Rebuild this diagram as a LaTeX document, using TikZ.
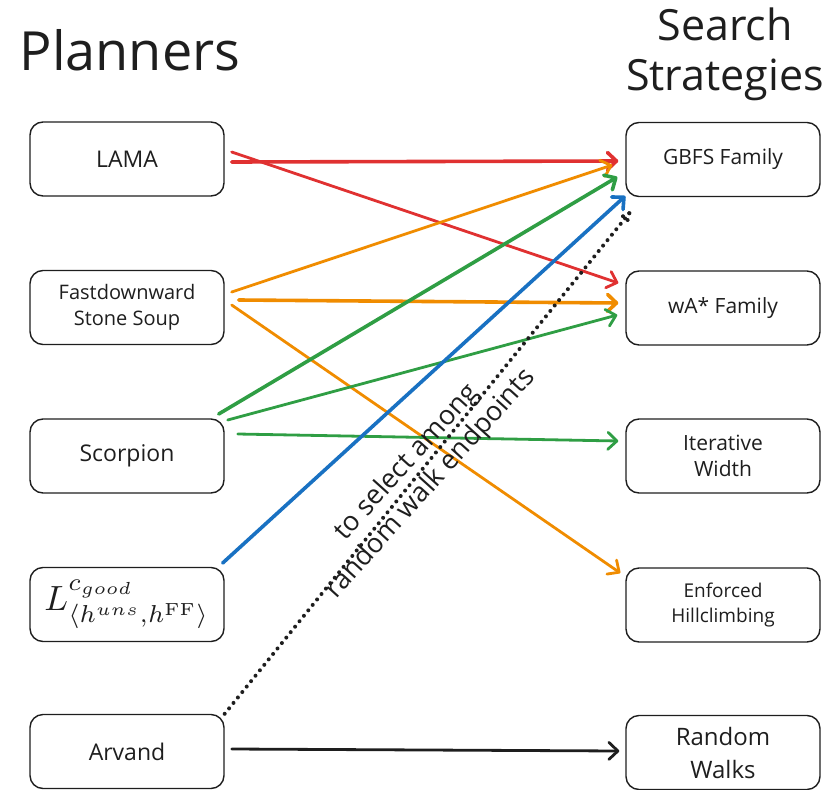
\documentclass[tikz,border=0pt]{standalone}
\usepackage[no-math]{fontspec}
\setmainfont{Open Sans}
\usepackage{graphicx}
\usetikzlibrary{arrows.meta,calc,decorations.markings}
\definecolor{ink}{HTML}{1E1E1E}
\definecolor{exred}{HTML}{E03131}
\definecolor{exorange}{HTML}{F08C00}
\definecolor{exgreen}{HTML}{2F9E44}
\definecolor{exblue}{HTML}{1971C2}
\begin{document}
\begin{tikzpicture}[x=1pt,y=-1pt,
  box/.style={draw=ink, line width=1.4pt, rounded corners=13pt,
    minimum width=194pt, minimum height=74pt, inner sep=0pt,
    align=center, text=ink, font=\fontsize{23}{28}\selectfont},
  mid/.style={font=\fontsize{21}{26}\selectfont},
  small/.style={font=\fontsize{19}{25}\selectfont},
  large/.style={font=\fontsize{24}{33}\selectfont},
  link/.style={line width=2.8pt, line cap=round,
    -{Straight Barb[length=9pt,width=17pt,line cap=round,line join=round]}},
  heavy/.style={line width=3.6pt},
  dotline/.style={decoration={markings,
      mark=between positions 0 and 1 step 7pt with {\fill[ink] (0,0) circle (2pt);}},
    decorate},
  lbl/.style={text=ink, align=center, font=\fontsize{27}{32}\selectfont},
  title/.style={text=ink, align=center}]
\useasboundingbox (0,0) rectangle (833,790);

% column headings
\node[title, anchor=base west, font=\fontsize{54}{60}\selectfont] (planners) at (16,70) {Planners};
\node[title, anchor=base, font=\fontsize{43}{50}\selectfont] (strategies) at (725,90) {Search\\Strategies};

% planners
\node[box] (lama) at (127,159) {LAMA};
\node[box, font=\fontsize{20}{26}\selectfont] (fd) at (127,307.5) {Fastdownward\\Stone Soup};
\node[box] (sc)   at (127,456) {Scorpion};
\node[box, font=\fontsize{10}{12}\selectfont] (lb) at (127,604.5)
  {\scalebox{3.5}{$L^{c_{good}}_{\langle h^{uns},h^{\mathrm{FF}}\rangle}$}};
\node[box] (arv)  at (127,751.5) {Arvand};

% search strategies
\node[box, mid] (gbfs) at (723,159.5) {GBFS Family};
\node[box, mid] (wa)   at (723,308) {wA* Family};
\node[box, mid] (iw)   at (723,456) {Iterative\\Width};
\node[box, small] (eh) at (723,605) {Enforced\\Hillclimbing};
\node[box, large] (rw) at (723,752.5) {Random\\Walks};

% LAMA
\draw[link, heavy, exred] ($(lama.east)+(7,3)$) -- ($(gbfs.west)+(-7,1.5)$);
\draw[link, exred] ($(lama.east)+(7,-7)$) -- ($(wa.west)+(-7,-25)$);

% Fastdownward Stone Soup
\draw[link, exorange] ($(fd.east)+(7,-15.5)$) -- ($(gbfs.west)+(-13,5.5)$);
\draw[link, heavy, exorange] ($(fd.east)+(14,-7.5)$) -- ($(wa.west)+(-7,-5)$);
\draw[link, exorange] ($(fd.east)+(7,-2.5)$) -- ($(eh.west)+(-5,-32)$);

% Scorpion
\draw[link, heavy, exgreen] ($(sc.east)+(-6,-42)$) -- ($(gbfs.west)+(-8,17.5)$);
\draw[link, exgreen] ($(sc.east)+(3,-36)$) -- ($(wa.west)+(-8,7)$);
\draw[link, exgreen] ($(sc.east)+(13,-22)$) -- ($(iw.west)+(-7,-15)$);

% learned planner
\draw[link, heavy, exblue] ($(lb.east)+(-2,-41.5)$) -- ($(gbfs.west)+(0,36.5)$);

% Arvand
\draw[link, ink] ($(arv.east)+(7,-2.5)$) -- ($(rw.west)+(-6,-1.5)$);
\coordinate (dotend) at ($(gbfs.south west)+(4,16)$);
\path[dotline] (arv.north east) -- (dotend);
\node[lbl, rotate=48] (note) at ($(arv.north east)!0.48!(dotend)$) {to select among\\random walk endpoints};
\path[dotline] (dotend) -- ($(dotend)!14pt!25:(arv.north east)$);
\path[dotline] (dotend) -- ($(dotend)!14pt!-25:(arv.north east)$);
\end{tikzpicture}
\end{document}
